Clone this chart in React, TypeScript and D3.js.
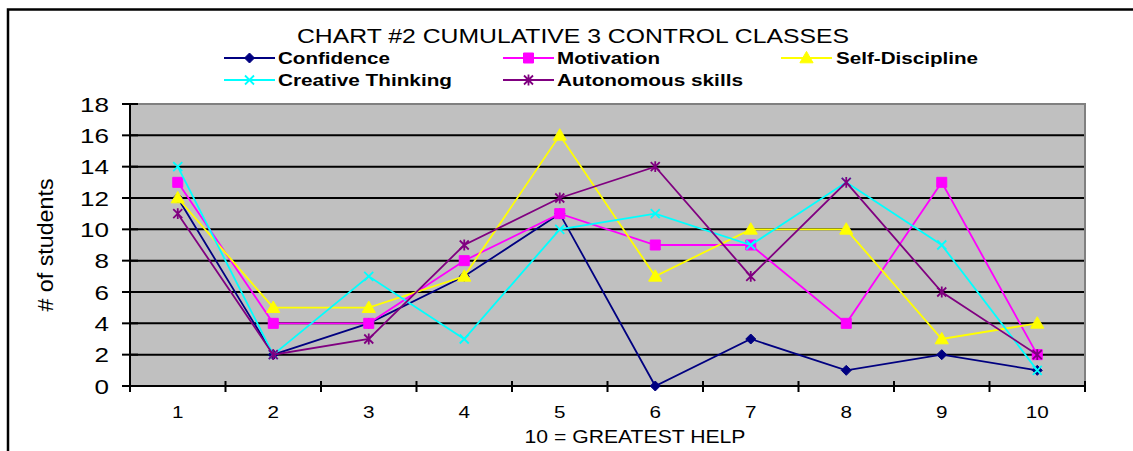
import React from "react";
import * as d3 from "d3";

const categories = ["1", "2", "3", "4", "5", "6", "7", "8", "9", "10"];
const yTicks = [0, 2, 4, 6, 8, 10, 12, 14, 16, 18];
const confidence = [12, 2, 4, 7, 11, 0, 3, 1, 2, 1];
const motivation = [13, 4, 4, 8, 11, 9, 9, 4, 13, 2];
const selfDiscipline = [12, 5, 5, 7, 16, 7, 10, 10, 3, 4];
const creativeThinking = [14, 2, 7, 3, 10, 11, 9, 13, 9, 1];
const autonomousSkills = [11, 2, 3, 9, 12, 14, 7, 13, 6, 2];
const seriesNames = ["Confidence", "Motivation", "Self-Discipline", "Creative Thinking", "Autonomous skills"];
const seriesColors = ["#000080", "#FF00FF", "#FFFF00", "#00FFFF", "#800080"];
const seriesMarkers = ["diamond", "square", "triangle", "x", "star"];

const W = 1133;
const H = 451;
const PL = 130, PR = 1085, PT = 104, PB = 386;

function markerPath(kind: string, r: number): string {
  switch (kind) {
    case "diamond":
      return `M0,${-r}L${r},0L0,${r}L${-r},0Z`;
    case "square":
      return `M${-r},${-r}H${r}V${r}H${-r}Z`;
    case "triangle":
      return `M0,${-r * 1.1}L${r * 1.1},${r * 0.8}L${-r * 1.1},${r * 0.8}Z`;
    case "x":
      return `M${-r},${-r}L${r},${r}M${r},${-r}L${-r},${r}`;
    case "star":
      return `M${-r},${-r}L${r},${r}M${r},${-r}L${-r},${r}M0,${-r * 1.2}V${r * 1.2}`;
    default:
      return "";
  }
}

export default function App() {
  const data = [confidence, motivation, selfDiscipline, creativeThinking, autonomousSkills];
  const x = d3.scaleBand<string>().domain(categories).range([PL, PR]);
  const y = d3.scaleLinear().domain([0, 18]).range([PB, PT]);
  const cx = (c: string) => (x(c) as number) + x.bandwidth() / 2;
  const line = d3
    .line<number>()
    .x((_, i) => cx(categories[i]))
    .y((v) => y(v));

  const bounds = [...categories.map((c) => x(c) as number), PR];
  const font = "'Liberation Sans', Arial, sans-serif";

  const legendItems = [
    { i: 0, lx: 224, ty: 58, tx: 278, tw: 112 },
    { i: 1, lx: 503, ty: 58, tx: 557, tw: 103 },
    { i: 2, lx: 781, ty: 58, tx: 836, tw: 142 },
    { i: 3, lx: 224, ty: 80, tx: 278, tw: 174 },
    { i: 4, lx: 503, ty: 80, tx: 557, tw: 186 },
  ];

  const markerSize = [5, 5, 6, 4.5, 4.5];

  return (
    <div style={{ position: "fixed", left: 0, top: 0 }}>
      <svg width={W} height={H} style={{ display: "block", background: "#fff" }}>
        {/* outer frame */}
        <path d={`M8,${H}V9.5H${W}`} fill="none" stroke="#000" strokeWidth={2.5} />
        {/* plot area */}
        <rect x={PL} y={PT} width={PR - PL} height={PB - PT} fill="#C0C0C0" />
        {yTicks
          .filter((t) => t > 0 && t < 18)
          .map((t) => (
            <line key={t} x1={PL} x2={PR} y1={y(t)} y2={y(t)} stroke="#000" strokeWidth={2} />
          ))}
        <path d={`M${PL},${PT}H${PR}V${PB}`} fill="none" stroke="#808080" strokeWidth={2} />
        {/* axes */}
        <line x1={PL} x2={PL} y1={PT} y2={PB} stroke="#000" strokeWidth={2} />
        <line x1={PL} x2={PR} y1={PB} y2={PB} stroke="#000" strokeWidth={2} />
        {yTicks.map((t) => (
          <g key={t}>
            <line x1={PL - 8} x2={PL + 8} y1={y(t)} y2={y(t)} stroke="#000" strokeWidth={2} />
            <text
              x={109}
              y={y(t)}
              dy="0.36em"
              textAnchor="end"
              fontFamily={font}
              fontSize={21}
              fill="#000"
              textLength={String(t).length * 14.5}
              lengthAdjust="spacingAndGlyphs"
            >
              {t}
            </text>
          </g>
        ))}
        {bounds.map((b, i) => (
          <line key={i} x1={b} x2={b} y1={PB - 5} y2={PB + 6} stroke="#000" strokeWidth={2} />
        ))}
        {categories.map((c) => (
          <text
            key={c}
            x={cx(c)}
            y={412}
            dy="0.36em"
            textAnchor="middle"
            fontFamily={font}
            fontSize={17}
            fill="#000"
            textLength={c.length * 11.5}
            lengthAdjust="spacingAndGlyphs"
          >
            {c}
          </text>
        ))}
        <text
          x={635}
          y={437}
          dy="0.36em"
          textAnchor="middle"
          fontFamily={font}
          fontSize={18}
          fill="#000"
          textLength={221}
          lengthAdjust="spacingAndGlyphs"
        >
          10 = GREATEST HELP
        </text>
        <text
          transform={`translate(45,${(PT + PB) / 2}) rotate(-90)`}
          dy="0.36em"
          textAnchor="middle"
          fontFamily={font}
          fontSize={22}
          fill="#000"
          textLength={133}
          lengthAdjust="spacingAndGlyphs"
        >
          # of students
        </text>
        {/* title */}
        <text x={573} y={36} dy="0.36em" textAnchor="middle" fontFamily={font} fontSize={20} fill="#000" textLength={552} lengthAdjust="spacingAndGlyphs">
          CHART #2 CUMULATIVE 3 CONTROL CLASSES
        </text>
        {/* series */}
        {data.map((vals, si) => (
          <g key={si}>
            <path d={line(vals) || ""} fill="none" stroke={seriesColors[si]} strokeWidth={1.8} />
            {vals.map((v, i) => {
              const k = seriesMarkers[si];
              const open = k === "x" || k === "star";
              return (
                <path
                  key={i}
                  transform={`translate(${cx(categories[i])},${y(v)})`}
                  d={markerPath(k, markerSize[si])}
                  fill={open ? "none" : seriesColors[si]}
                  stroke={seriesColors[si]}
                  strokeWidth={open ? 1.8 : 1}
                />
              );
            })}
          </g>
        ))}
        {/* legend */}
        {legendItems.map((it) => {
          const k = seriesMarkers[it.i];
          const open = k === "x" || k === "star";
          const col = seriesColors[it.i];
          return (
            <g key={it.i}>
              <line x1={it.lx} x2={it.lx + 51} y1={it.ty} y2={it.ty} stroke={col} strokeWidth={1.8} />
              <path
                transform={`translate(${it.lx + 25.5},${it.ty})`}
                d={markerPath(k, markerSize[it.i])}
                fill={open ? "none" : col}
                stroke={col}
                strokeWidth={open ? 1.8 : 1}
              />
              <text
                x={it.tx}
                y={it.ty}
                dy="0.36em"
                fontFamily={font}
                fontWeight="bold"
                fontSize={16}
                fill="#000"
                textLength={it.tw}
                lengthAdjust="spacingAndGlyphs"
              >
                {seriesNames[it.i]}
              </text>
            </g>
          );
        })}
      </svg>
    </div>
  );
}
